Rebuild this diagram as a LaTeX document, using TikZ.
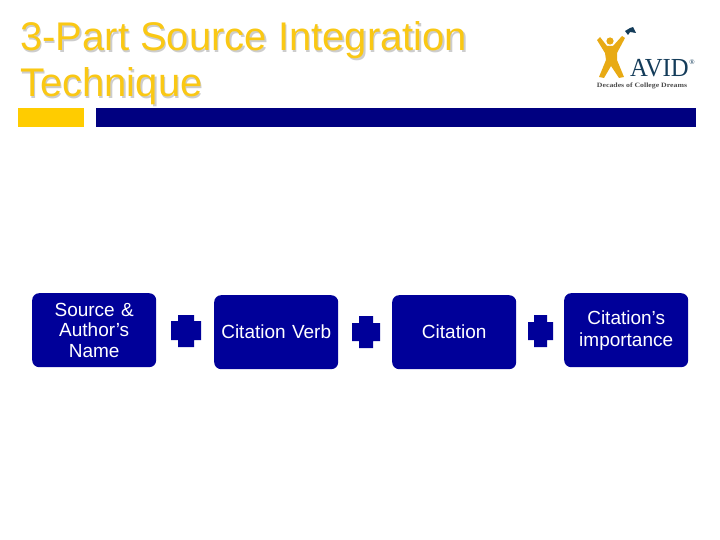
\documentclass[tikz,border=0pt]{standalone}
\usepackage{fontspec}
\setmainfont{Liberation Sans}
\newfontfamily\logofont{Liberation Serif}
\definecolor{navyb}{RGB}{0,0,128}
\definecolor{boxb}{RGB}{0,0,153}
\definecolor{gold}{RGB}{255,204,0}
\definecolor{titleg}{RGB}{250,200,20}
\definecolor{shadowg}{RGB}{205,205,205}
\definecolor{figg}{RGB}{232,170,20}
\definecolor{teal}{RGB}{20,60,90}
\tikzset{
  x=1pt,y=-1pt,
  stepbox/.style={fill=boxb,rounded corners=7pt,minimum width=124pt,minimum height=74pt,inner sep=0pt,text=white,align=center,font=\fontsize{19}{20.6}\selectfont,anchor=north west,text width=122pt},
  plusmark/.style={fill=boxb,draw=none},
  titletext/.style={anchor=base west,inner sep=0pt,font=\fontsize{40}{40}\selectfont},
}
\begin{document}
\begin{tikzpicture}
\useasboundingbox (0,0) rectangle (720,540);
\fill[white] (0,0) rectangle (720,540);
% title
\node[titletext,text=shadowg] (t1s) at (21.5,52.5) {3-Part Source Integration};
\node[titletext,text=shadowg] (t2s) at (21.5,98.5) {Technique};
\node[titletext,text=titleg] (t1) at (20,51) {3-Part Source Integration};
\node[titletext,text=titleg] (t2) at (20,97) {Technique};
% bars
\fill[gold] (18,108) rectangle (84,127);
\fill[navyb] (96,108) rectangle (696,127);
% logo
\fill[figg] (597,40) -- (600,37) -- (607,46) -- (613,46) -- (622,36) -- (625,38) -- (617,53) -- (617,60) -- (624,77) -- (619,78) -- (611,66) -- (604,78) -- (599,77) -- (606,60) -- (605,53) -- cycle;
\fill[figg] (610,41) circle (3.6);
\fill[teal] (625,31) -- (630,28) -- (633,27) -- (636,33) -- (630,32) -- (628,35) -- cycle;
\node[inner sep=0pt,anchor=base west,text=teal,font=\logofont\fontsize{26}{26}\selectfont,xscale=.95] (avid) at (630,77) {AVID};
\node[inner sep=0pt,anchor=center,text=teal,font=\logofont\fontsize{7}{7}\selectfont] (reg) at (692,62) {®};
\node[inner sep=0pt,anchor=center,text=black!70,font=\logofont\bfseries\fontsize{6.6}{7}\selectfont,xscale=1.18] (tag) at (642,85.5) {Decades of College Dreams};
% boxes
\node[stepbox] (b1) at (32,293) {Source \&\\Author’s\\Name};
\node[stepbox] (b2) at (214,295) {Citation Verb};
\node[stepbox] (b3) at (392,295) {Citation};
\node[stepbox,font=\fontsize{19}{22}\selectfont] (b4) at (564,293) {Citation’s\\importance};
% plus signs
\fill[plusmark] (178,315) -- (194,315) -- (194,321) -- (201,321) -- (201,340) -- (194,340) -- (194,347) -- (178,347) -- (178,340) -- (171,340) -- (171,321) -- (178,321) -- cycle;
\fill[plusmark] (359,316) -- (373,316) -- (373,323) -- (380,323) -- (380,341) -- (373,341) -- (373,348) -- (359,348) -- (359,341) -- (352,341) -- (352,323) -- (359,323) -- cycle;
\fill[plusmark] (534,315) -- (547,315) -- (547,322) -- (553,322) -- (553,340) -- (547,340) -- (547,347) -- (534,347) -- (534,340) -- (528,340) -- (528,322) -- (534,322) -- cycle;
\end{tikzpicture}
\end{document}
